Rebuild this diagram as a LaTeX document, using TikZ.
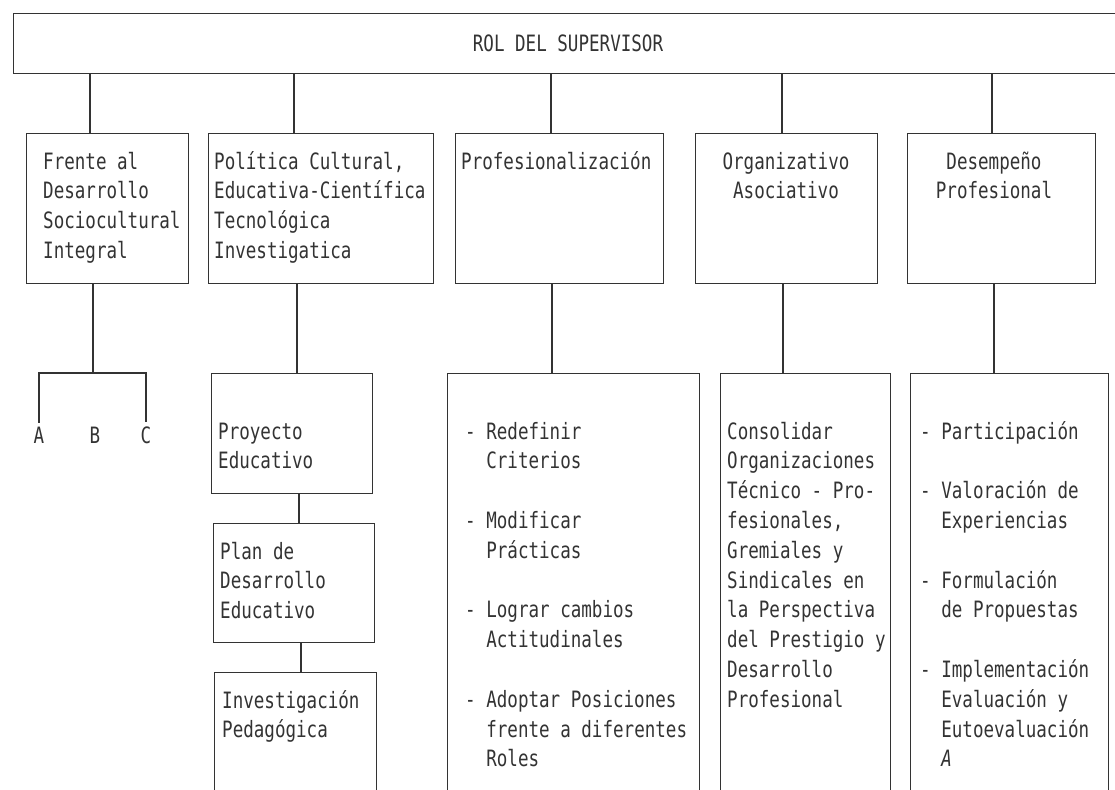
\documentclass[tikz,border=0pt]{standalone}
\usepackage{fontspec}
\newfontfamily\dm[FakeStretch=0.78]{DejaVu Sans Mono}
\newcommand\ind{\hphantom{-~}}
\definecolor{ink}{gray}{0.2}
\begin{document}
\begin{tikzpicture}[x=1pt,y=-1pt,
  box/.style={draw=ink,line width=1.4pt,rectangle,anchor=north west,inner sep=0pt},
  txt/.style={inner sep=0pt,text=ink,font=\fontsize{22.5}{29.8}\selectfont\dm,align=left,anchor=north west},
  ctxt/.style={txt,align=center,anchor=north},
  link/.style={draw=ink,line width=1.4pt}]
\useasboundingbox (0,0) rectangle (1115,789);
\fill[white] (0,0) rectangle (1115,789);
% boxes
\node[box,minimum width=1112pt,minimum height=60pt] (top) at (13,13) {};
\node[box,minimum width=162pt,minimum height=150pt] (b1) at (26,133) {};
\node[box,minimum width=225pt,minimum height=150pt] (b2) at (208,133) {};
\node[box,minimum width=208pt,minimum height=150pt] (b3) at (455,133) {};
\node[box,minimum width=182pt,minimum height=150pt] (b4) at (695,133) {};
\node[box,minimum width=188pt,minimum height=150pt] (b5) at (907,133) {};
\node[box,minimum width=161pt,minimum height=120pt] (p1) at (211,373) {};
\node[box,minimum width=161pt,minimum height=119pt] (p2) at (213,523) {};
\node[box,minimum width=162pt,minimum height=140pt] (p3) at (214,672) {};
\node[box,minimum width=252pt,minimum height=440pt] (c3) at (447,373) {};
\node[box,minimum width=170pt,minimum height=440pt] (c4) at (720,373) {};
\node[box,minimum width=198pt,minimum height=440pt] (c5) at (910,373) {};
% texts
\node[txt,anchor=center] (tt) at (568,43) {ROL DEL SUPERVISOR};
\node[txt] (t1) at (43,148) {\strut Frente al\\Desarrollo\\Sociocultural\\Integral};
\node[txt] (t2) at (214,148) {\strut Política Cultural,\\Educativa-Científica\\Tecnológica\\Investigatica};
\node[txt] (t3) at (461,148) {\strut Profesionalización};
\node[ctxt] (t4) at (786,148) {\strut Organizativo\\Asociativo};
\node[ctxt] (t5) at (994,148) {\strut Desempeño\\Profesional};
\node[txt,anchor=center,inner sep=4pt] (la) at (39,435) {A};
\node[txt,anchor=center,inner sep=4pt] (lb) at (95,435) {B};
\node[txt,anchor=center,inner sep=4pt] (lc) at (146,435) {C};
\node[txt] (q1) at (218,418) {\strut Proyecto\\Educativo};
\node[txt] (q2) at (220,538) {\strut Plan de\\Desarrollo\\Educativo};
\node[txt] (q3) at (222,687) {\strut Investigación\\Pedagógica};
\node[txt] (x3) at (465,418) {\strut- Redefinir\\\ind Criterios\\\mbox{}\\- Modificar\\\ind Prácticas\\\mbox{}\\- Lograr cambios\\\ind Actitudinales\\\mbox{}\\- Adoptar Posiciones\\\ind frente a diferentes\\\ind Roles};
\node[txt] (x4) at (727,418) {\strut Consolidar\\Organizaciones\\Técnico - Pro-\\fesionales,\\Gremiales y\\Sindicales en\\la Perspectiva\\del Prestigio y\\Desarrollo\\Profesional};
\node[txt] (x5) at (920,418) {\strut- Participación\\\mbox{}\\- Valoración de\\\ind Experiencias\\\mbox{}\\- Formulación\\\ind de Propuestas\\\mbox{}\\- Implementación\\\ind Evaluación y\\\ind Eutoevaluación\\\ind{\itshape A}};
% connectors from top
\draw[link] (b1.north west) ++(64,0) coordinate (u1) -- (u1 |- top.south);
\draw[link] (b2.north west) ++(86,0) coordinate (u2) -- (u2 |- top.south);
\draw[link] (b3.north west) ++(96,0) coordinate (u3) -- (u3 |- top.south);
\draw[link] (b4.north west) ++(87,0) coordinate (u4) -- (u4 |- top.south);
\draw[link] (b5.north west) ++(85,0) coordinate (u5) -- (u5 |- top.south);
% lower connectors
\draw[link] (b1.south west) ++(67,0) coordinate (s1) -- (s1 |- p1.north);
\draw[link] (la.north) |- (s1 |- p1.north) -| (lc.north);
\draw[link] (b2.south west) ++(89,0) coordinate (s2) -- (s2 |- p1.north);
\draw[link] (p1.south west) ++(88,0) coordinate (s3) -- (s3 |- p2.north);
\draw[link] (p2.south west) ++(88,0) coordinate (s4) -- (s4 |- p3.north);
\draw[link] (b3.south west) ++(97,0) coordinate (s5) -- (s5 |- c3.north);
\draw[link] (b4.south west) ++(88,0) coordinate (s6) -- (s6 |- c4.north);
\draw[link] (b5.south west) ++(87,0) coordinate (s7) -- (s7 |- c5.north);
\end{tikzpicture}
\end{document}
